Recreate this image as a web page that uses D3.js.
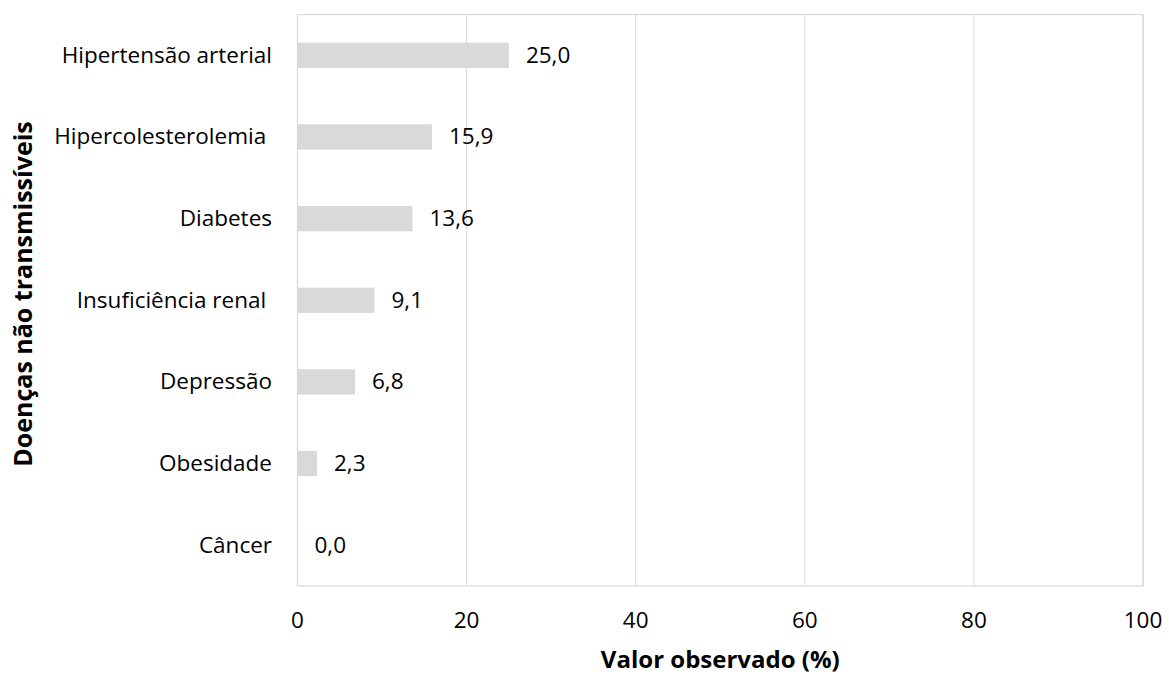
<!DOCTYPE html>
<html>
<head>
<meta charset="utf-8">
<script src="https://cdn.jsdelivr.net/npm/d3@7"></script>
<style>
  body { margin: 0; background: #fff; }
  text { font-family: "Open Sans", sans-serif; fill: #000; }
</style>
</head>
<body>
<script>
// categories top to bottom
const categories = [
  'Hipertensão arterial',
  'Hipercolesterolemia ',
  'Diabetes',
  'Insuficiência renal ',
  'Depressão',
  'Obesidade',
  'Câncer'
];
const values = [25.0, 15.9, 13.6, 9.1, 6.8, 2.3, 0.0];
const xTicks = [0, 20, 40, 60, 80, 100];

const width = 1169, height = 675;
const margin = { top: 14.5, right: 26, bottom: 89, left: 297.5 };
const fontSize = '22.5px';

const svg = d3.select('body').append('svg')
  .attr('width', width)
  .attr('height', height);

const x = d3.scaleLinear()
  .domain([0, 100])
  .range([margin.left, width - margin.right]);

const y = d3.scaleBand()
  .domain(categories)
  .range([margin.top, height - margin.bottom])
  .paddingInner(0.69)
  .paddingOuter(0.345);

// gridlines
svg.append('g')
  .selectAll('line')
  .data(xTicks)
  .join('line')
    .attr('x1', d => x(d)).attr('x2', d => x(d))
    .attr('y1', margin.top).attr('y2', height - margin.bottom)
    .attr('stroke', '#d9d9d9')
    .attr('stroke-width', 1);

// plot border
svg.append('rect')
  .attr('x', margin.left)
  .attr('y', margin.top)
  .attr('width', x(100) - x(0))
  .attr('height', height - margin.bottom - margin.top)
  .attr('fill', 'none')
  .attr('stroke', '#d9d9d9')
  .attr('stroke-width', 1.2);

// bars
svg.append('g')
  .selectAll('rect')
  .data(values)
  .join('rect')
    .attr('x', x(0))
    .attr('y', (d, i) => y(categories[i]))
    .attr('width', d => x(d) - x(0))
    .attr('height', y.bandwidth())
    .attr('fill', '#d9d9d9');

const fmt = d => d.toFixed(1).replace('.', ',');

// value labels
svg.append('g')
  .selectAll('text')
  .data(values)
  .join('text')
    .attr('x', d => x(d) + 17)
    .attr('y', (d, i) => y(categories[i]) + y.bandwidth() / 2)
    .attr('dy', '0.33em')
    .style('font-size', fontSize)
    .text(fmt);

// category labels
svg.append('g')
  .selectAll('text')
  .data(categories)
  .join('text')
    .attr('x', 272)
    .attr('y', d => y(d) + y.bandwidth() / 2)
    .attr('dy', '0.33em')
    .attr('text-anchor', 'end')
    .style('white-space', 'pre')
    .style('font-size', fontSize)
    .text(d => d);

// x tick labels
svg.append('g')
  .selectAll('text')
  .data(xTicks)
  .join('text')
    .attr('x', d => x(d))
    .attr('y', 628)
    .attr('text-anchor', 'middle')
    .style('font-size', fontSize)
    .text(d => d);

// axis titles
svg.append('text')
  .attr('x', (x(0) + x(100)) / 2)
  .attr('y', 668)
  .attr('text-anchor', 'middle')
  .style('font-size', '24px')
  .style('font-weight', 'bold')
  .text('Valor observado (%)');

svg.append('text')
  .attr('transform', 'translate(32,294) rotate(-90)')
  .attr('text-anchor', 'middle')
  .style('font-size', '25px')
  .style('font-weight', 'bold')
  .text('Doenças não transmissíveis');
</script>
</body>
</html>
